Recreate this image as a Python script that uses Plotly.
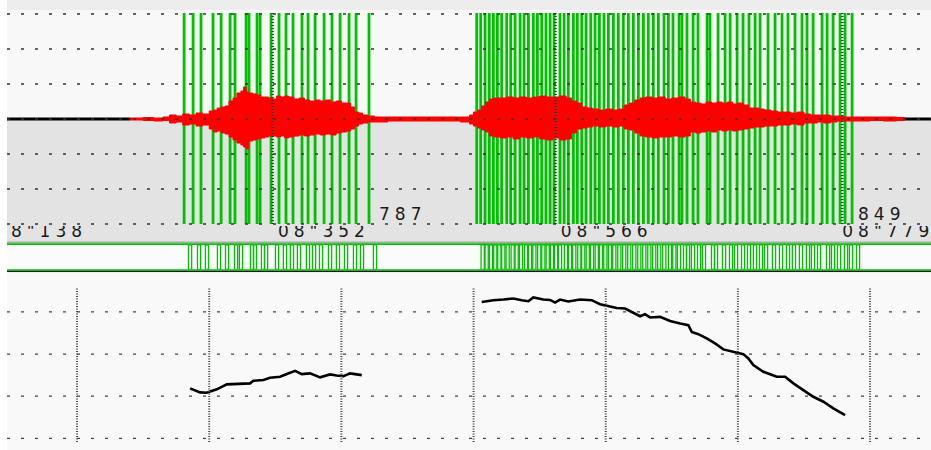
import plotly.graph_objects as go

# ---------------- data (time in ms after 8 s) ----------------
X_RANGE = [147.0, 846.1]

label_ms = [138, 352, 566, 779]
label_text = ['08"138', '08"352', '08"566', '08"779']
segment_label_ms = [427, 789]
segment_label_text = ['787', '849']

wave_cursor_ms = [348, 562, 779]
wave_grid_amp = [-105, -70, -35, 0, 35, 70, 105]
pitch_grid_ms = [200, 300, 400, 500, 600, 700, 800]
pitch_grid_hz = [100, 150, 200, 250]

silence_t = [147, 240, None, 826, 846]
silence_amp = [0, 0, None, 0, 0]

env_t = [240, 250, 258, 265, 270, 275, 280, 285, 290, 295, 300, 303, 306, 309, 312,
         315, 318, 321, 324, 326, 328, 330, 333, 336, 339, 342, 345, 348, 351, 354,
         357, 360, 364, 368, 372, 376, 380, 384, 388, 392, 396, 400, 404, 407, 410,
         413, 416, 420, 425, 435, 450, 465, 480, 490, 497, 500, 503, 506, 509, 512,
         515, 520, 525, 530, 535, 540, 545, 550, 555, 560, 565, 570, 574, 578, 582,
         586, 590, 595, 600, 605, 610, 614, 618, 622, 626, 630, 635, 640, 645, 650,
         655, 660, 664, 668, 672, 676, 680, 684, 688, 692, 696, 700, 704, 708, 712,
         716, 720, 725, 730, 735, 740, 745, 750, 755, 760, 765, 770, 775, 780, 790,
         800, 810, 820, 826]
env_hi = [1, 1.5, 1, 2, 4, 3, 5, 4, 6, 5, 8, 9, 11, 12, 13,
          18, 21, 26, 28, 32, 27, 26, 25, 24, 22, 22, 21, 20, 23, 22,
          23, 22, 20, 21, 19, 18, 19, 18, 19, 17, 18, 16, 16, 12, 7,
          6, 4, 3, 2, 2, 2, 2, 2, 2, 4, 7, 9, 13, 17, 20,
          21, 21, 22, 21, 22, 21, 22, 23, 22, 22, 23, 21, 18, 16, 12,
          11, 10, 9, 10, 9, 10, 14, 16, 19, 21, 22, 21, 22, 20, 21,
          22, 20, 17, 16, 15, 17, 16, 17, 16, 17, 15, 16, 14, 11, 11,
          10, 9, 8, 7, 7, 6, 7, 5, 4, 4, 4, 3, 3, 2, 2,
          2, 2, 1.5, 1]
env_lo = [-1, -1.5, -2, -1.5, -4, -3, -6, -5, -7, -6, -10, -13, -12, -14, -15,
          -18, -21, -24, -26, -28, -30, -22, -21, -20, -19, -18, -17, -17, -18, -17,
          -19, -18, -17, -16, -17, -16, -15, -16, -15, -16, -14, -13, -12, -10, -7,
          -5, -4, -3, -3, -2, -2, -2, -2, -3, -5, -7, -9, -11, -13, -17,
          -18, -19, -18, -20, -18, -19, -18, -20, -21, -19, -21, -20, -14, -10, -9,
          -8, -7, -8, -7, -8, -7, -10, -11, -14, -17, -18, -19, -18, -18, -17,
          -18, -17, -13, -14, -13, -12, -13, -11, -12, -11, -12, -11, -10, -9, -8,
          -8, -7, -7, -6, -6, -5, -6, -4, -4, -3, -4, -3, -2, -2, -2,
          -1.5, -2, -1.5, -1]

marks_1 = [281.0, 287.8, 293.8, 302.9, 309.0, 315.8, 319.5, 327.9, 330.1, 336.2,
           338.5, 346.8, 352.8, 358.1, 363.4, 370.2, 374.8, 380.1, 386.9, 392.9,
           399.0, 405.8, 411.1, 420.9]
marks_2 = [502.4, 505.4, 508.7, 511.9, 515.0, 518.0, 521.3, 525.1, 528.1, 531.4,
           535.2, 538.2, 541.5, 545.2, 548.3, 551.6, 554.8, 557.9, 560.9, 565.4,
           568.5, 571.7, 575.5, 578.5, 581.9, 585.1, 588.7, 591.9, 595.2, 598.7,
           602.0, 605.8, 609.5, 613.3, 617.1, 620.9, 624.7, 628.5, 632.2, 636.0,
           639.8, 644.1, 647.4, 650.9, 655.5, 657.7, 661.5, 666.1, 669.8, 676.7,
           678.9, 685.0, 690.3, 694.1, 699.4, 703.9, 708.4, 713.0, 716.8, 722.8,
           728.1, 733.4, 737.9, 743.2, 748.5, 752.3, 756.9, 763.7, 767.5, 772.0,
           777.3, 781.1, 786.4]

pitch1_t = [285.5, 293.1, 298.1, 305.7, 313.3, 320.8, 330.9, 333.4, 341.0, 346.0,
            353.6, 358.7, 365.0, 370.0, 376.3, 383.9, 391.4, 396.5, 401.5, 406.6, 415.4]
pitch1_hz = [159.2, 154.5, 154.0, 158.1, 164.0, 164.3, 165.2, 168.2, 169.1, 171.8,
             173.0, 176.2, 180.1, 176.2, 177.0, 172.3, 175.8, 174.6, 173.8, 177.0, 175.0]
pitch2_t = [506.2, 515.0, 522.5, 530.1, 536.5, 541.5, 545.2, 552.8, 557.9, 561.7,
            565.4, 571.7, 580.6, 589.4, 595.7, 600.8, 608.3, 614.6, 619.7, 626.0,
            629.7, 633.5, 641.1, 648.7, 656.3, 662.5, 665.1, 670.1, 676.4, 682.7,
            689.0, 696.6, 704.1, 707.9, 711.7, 719.3, 729.4, 735.7, 742.0, 749.5,
            757.1, 764.7, 772.2, 781.1]
pitch2_hz = [261.8, 263.9, 264.7, 265.9, 263.9, 262.7, 267.1, 264.7, 264.2, 261.1,
             264.7, 262.3, 264.7, 263.9, 259.2, 257.1, 254.7, 254.0, 250.0, 244.9,
             247.3, 243.4, 244.1, 239.3, 236.3, 234.2, 226.3, 223.6, 218.5, 212.6,
             205.5, 202.6, 199.9, 194.8, 186.8, 178.9, 173.0, 173.0, 165.2, 157.2,
             149.3, 143.4, 135.5, 127.6]

# ---------------- styling ----------------
W, H = 931, 450
GREEN = "#00c000"
STRIP_SHIFT = 4.5       # strip marks drawn slightly to the right of the waveform marks
MARK_TOP, MARK_BOT = 106, -105
PITCH_VGRID = [95.5, 278.0]
LABEL_FONT = dict(family="DejaVu Sans", size=17, color="#1a1a1a")


def px_to_paper(py):
    return 1 - py / H


def spaced(s, sp=5):
    return f'<span style="letter-spacing:{sp}px">{s}</span>'


marks = marks_1 + marks_2

fig = go.Figure()

# green pitch marks on waveform
mx, my = [], []
for t in marks:
    mx += [t, t, None]
    my += [MARK_BOT, MARK_TOP, None]
fig.add_trace(go.Scatter(x=mx, y=my, mode="lines", line=dict(color=GREEN, width=2.8),
                         xaxis="x", yaxis="y", hoverinfo="skip"))

# red waveform envelope
fig.add_trace(go.Scatter(x=env_t, y=env_lo, mode="lines", line=dict(color="#ff0000", width=1, shape="hv"),
                         xaxis="x", yaxis="y", hoverinfo="skip"))
fig.add_trace(go.Scatter(x=env_t, y=env_hi, mode="lines", line=dict(color="#ff0000", width=1, shape="hv"),
                         fill="tonexty", fillcolor="#ff0000", xaxis="x", yaxis="y", hoverinfo="skip"))
# silent part
fig.add_trace(go.Scatter(x=silence_t, y=silence_amp, mode="lines", line=dict(color="#000000", width=3),
                         xaxis="x", yaxis="y", hoverinfo="skip"))

# strip of pitch marks (hollow bars)
fig.add_trace(go.Bar(x=marks, y=[1] * len(marks), width=2.4,
                     marker=dict(color="rgba(255,255,255,0)", line=dict(color=GREEN, width=1.3)),
                     xaxis="x2", yaxis="y2", hoverinfo="skip"))

# pitch contour
for pt, ph in ((pitch1_t, pitch1_hz), (pitch2_t, pitch2_hz)):
    fig.add_trace(go.Scatter(x=pt, y=ph, mode="lines", line=dict(color="#000000", width=2.6),
                             xaxis="x3", yaxis="y3", hoverinfo="skip"))

# time labels (clipped at plot edges)
fig.add_trace(go.Scatter(x=label_ms, y=[0.55] * len(label_ms), mode="text",
                         text=[spaced(s) for s in label_text], textposition="middle right",
                         textfont=LABEL_FONT,
                         xaxis="x4", yaxis="y4", cliponaxis=True, hoverinfo="skip"))

shapes = []
# backgrounds
bands = [
    (0, 10, "#ededed"),
    (10, 119, "#f8f8f8"),
    (119, 242, "#e3e3e3"),
    (241.5, 243.2, "#a8a8a8"),
    (243.2, 245.2, GREEN),
    (245.2, 269.3, "#fbfbfb"),
    (269.3, 270.8, GREEN),
    (270.8, 272.3, "#1a1a1a"),
    (272.3, 450, "#f9f9f9"),
]
for a, b, c in bands:
    shapes.append(dict(type="rect", xref="paper", yref="paper", x0=0, x1=1,
                       y0=px_to_paper(b), y1=px_to_paper(a), fillcolor=c,
                       line=dict(width=0), layer="below"))

# waveform horizontal grid
for v in wave_grid_amp:
    shapes.append(dict(type="line", xref="paper", yref="y", x0=0, x1=1, y0=v, y1=v,
                       line=dict(color="#333333", width=1.3, dash="3px,11px"), layer="above"))
# waveform cursor lines
for t in wave_cursor_ms:
    shapes.append(dict(type="line", xref="x", yref="y", x0=t, x1=t, y0=MARK_BOT, y1=MARK_TOP,
                       line=dict(color="#333333", width=2.4, dash="1px,2px"), layer="above"))
# pitch grid
for v in pitch_grid_hz:
    shapes.append(dict(type="line", xref="paper", yref="y3", x0=0, x1=1, y0=v, y1=v,
                       line=dict(color="#444444", width=1.3, dash="3px,11px"), layer="above"))
for t in pitch_grid_ms:
    shapes.append(dict(type="line", xref="x3", yref="y3", x0=t, x1=t,
                       y0=PITCH_VGRID[0], y1=PITCH_VGRID[1],
                       line=dict(color="#444444", width=2, dash="1px,1.5px"), layer="above"))

annotations = []
for t, s in zip(segment_label_ms, segment_label_text):
    annotations.append(dict(x=t, xref="x", y=px_to_paper(214), yref="paper", text=spaced(s),
                            showarrow=False, xanchor="left", yanchor="middle",
                            font=LABEL_FONT))

hidden = dict(visible=False, showgrid=False, zeroline=False, fixedrange=True)
fig.update_layout(
    width=W, height=H,
    margin=dict(l=7, r=0, t=0, b=0, pad=0),
    paper_bgcolor="white", plot_bgcolor="rgba(0,0,0,0)",
    showlegend=False,
    xaxis=dict(range=X_RANGE, domain=[0, 1], anchor="y", **hidden),
    yaxis=dict(range=[-107, 107], domain=[px_to_paper(226), px_to_paper(12)], anchor="x", **hidden),
    xaxis2=dict(range=[X_RANGE[0] - STRIP_SHIFT, X_RANGE[1] - STRIP_SHIFT], domain=[0, 1], anchor="y2", **hidden),
    yaxis2=dict(range=[0, 1], domain=[px_to_paper(269.5), px_to_paper(244.8)], anchor="x2", **hidden),
    xaxis3=dict(range=X_RANGE, domain=[0, 1], anchor="y3", **hidden),
    yaxis3=dict(range=[86.1, 297.0], domain=[0, px_to_paper(272.3)], anchor="x3", **hidden),
    xaxis4=dict(range=X_RANGE, domain=[0, 1], anchor="y4", **hidden),
    yaxis4=dict(range=[0, 1], domain=[px_to_paper(241.5), px_to_paper(226)], anchor="x4", **hidden),
    shapes=shapes,
    annotations=annotations,
)

fig.write_html(
    "out.html",
    config={"displayModeBar": False},
    post_script="document.body.style.margin='0';document.body.style.padding='0';"
                "document.documentElement.style.overflow='hidden';",
)
